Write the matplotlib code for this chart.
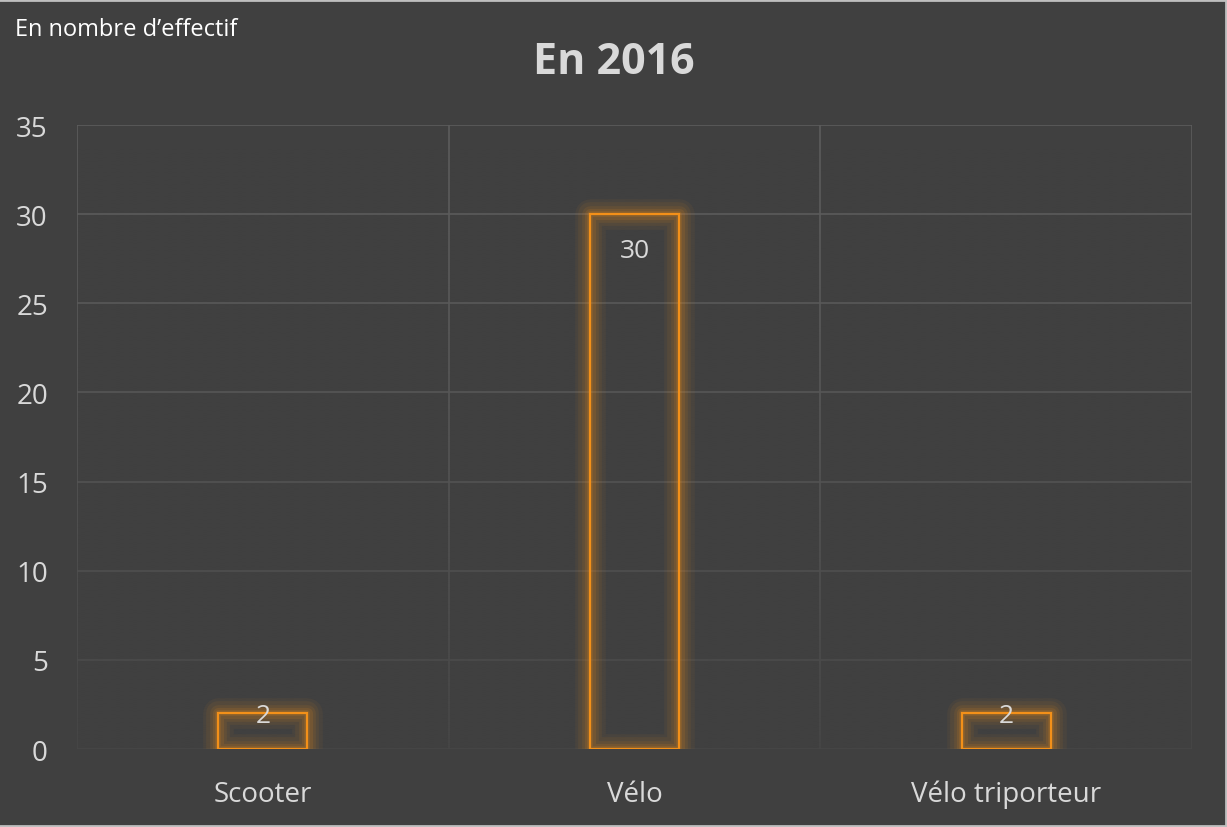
import numpy as np
import matplotlib.pyplot as plt
from matplotlib.lines import Line2D

# effectifs par mode de livraison
categories = ["Scooter", "Vélo", "Vélo triporteur"]
effectifs = [2, 30, 2]
yticks = [0, 5, 10, 15, 20, 25, 30, 35]

bg = "#404040"
orange = "#F39019"
txt = "#D9D9D9"

plt.rcParams['font.family'] = ['Open Sans', 'DejaVu Sans']

fig = plt.figure(figsize=(12.27, 8.28), dpi=100, facecolor=bg)
ax = fig.add_axes([0.0628, 0.0942, 0.9087, 0.7536], facecolor=bg)

x = np.arange(len(categories))
width = 0.24

# halo autour des barres
for lw, a in [(22, 0.05), (17, 0.07), (12, 0.09), (8, 0.12), (4, 0.16)]:
    halo = ax.bar(x, effectifs, width=width, facecolor="none", edgecolor=orange,
                  linewidth=lw, alpha=a, zorder=2)
    for p in halo:
        p.set_joinstyle("round")
ax.bar(x, effectifs, width=width, facecolor="none", edgecolor=orange,
       linewidth=1.6, zorder=3)

ax.set_xlim(-0.5, len(categories) - 0.5)
ax.set_ylim(0, 35)
ax.set_yticks(yticks)
ax.set_xticks(x)
ax.set_xticklabels(categories)
ax.set_xticks(np.arange(len(categories) + 1) - 0.5, minor=True)
ax.tick_params(axis="both", which="both", length=0, colors=txt, labelsize=20)
ax.tick_params(axis="y", pad=21)
ax.tick_params(axis="x", pad=22)
for s in ax.spines.values():
    s.set_visible(False)
ax.set_axisbelow(True)
ax.grid(axis="y", which="major", color="#5C5C5C", linewidth=1.2)
ax.grid(axis="x", which="minor", color="#5C5C5C", linewidth=1.2)

# dégradé qui estompe la grille vers le bas
grad = np.zeros((256, 1, 4))
grad[..., :3] = np.array([0x40, 0x40, 0x40]) / 255
grad[:, 0, 3] = np.linspace(0, 0.85, 256) ** 1.6
ax.imshow(grad, extent=[0, 1, 0, 1], transform=ax.transAxes, aspect="auto",
          origin="upper", zorder=1, interpolation="bilinear")
ax.set_xlim(-0.5, len(categories) - 0.5)
ax.set_ylim(0, 35)

# étiquettes de valeur
fig.canvas.draw()
px_per_unit = ax.transData.transform((0, 1))[1] - ax.transData.transform((0, 0))[1]
for xi, v in zip(x, effectifs):
    h = v * px_per_unit
    off = min(36, h / 2 - 16)
    ax.annotate(str(v), (xi, v), xytext=(0, -off), textcoords="offset pixels",
                ha="center", va="center", color=txt, fontsize=19, zorder=4)

fig.text(0.5, 0.924, "En 2016", ha="center", va="center", color=txt,
         fontsize=31, fontweight="bold")
fig.text(0.012, 0.964, "En nombre d\u2019effectif", ha="left", va="center",
         color="white", fontsize=17)

# cadre clair du graphique
for xs, ys in [([0, 1], [0.999, 0.999]), ([0.999, 0.999], [0, 1]), ([0, 1], [0.001, 0.001])]:
    fig.add_artist(Line2D(xs, ys, transform=fig.transFigure, color="#BFBFBF", linewidth=2))

fig.savefig("out.png", dpi=100, facecolor=bg)
